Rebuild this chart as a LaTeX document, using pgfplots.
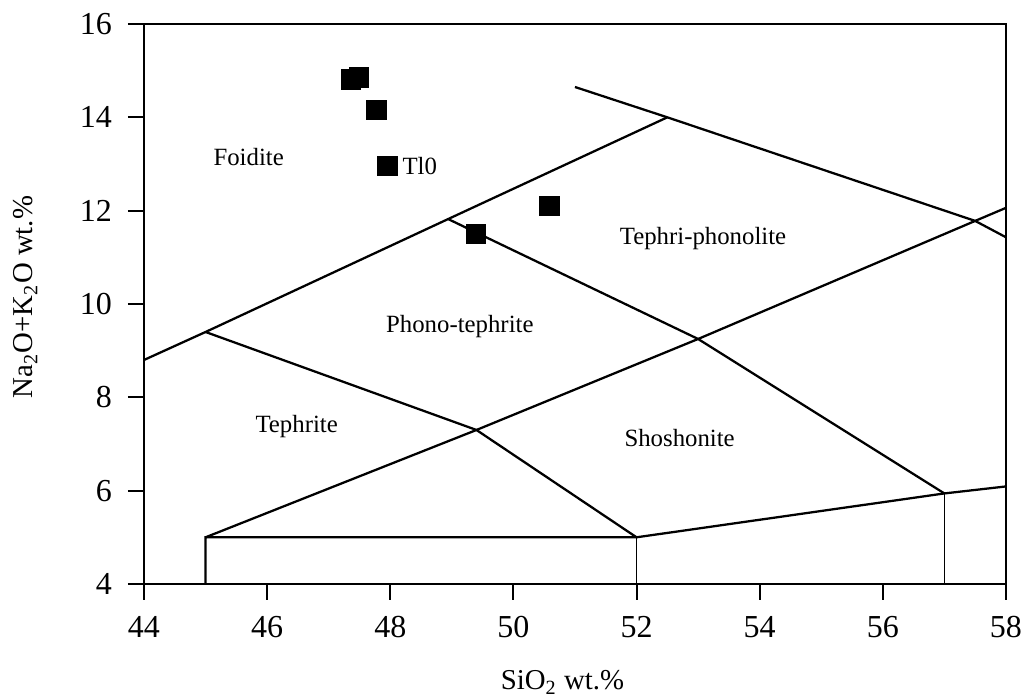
\documentclass[border=0pt]{standalone}
\usepackage{pgfplots}
\pgfplotsset{compat=1.18}
\usepackage{fontspec}
\setmainfont{Liberation Serif}
\begin{document}
\begin{tikzpicture}
\begin{axis}[
  name=ax,
  scale only axis,
  width=323.25pt, height=210pt,
  xmin=44, xmax=58, ymin=4, ymax=16,
  xtick={44,46,...,58}, ytick={4,6,...,16},
  tick align=outside, major tick length=6pt,
  xtick pos=bottom, ytick pos=left,
  axis line style={line width=0.75pt},
  tick style={line width=0.75pt, black},
  ticklabel style={font=\fontsize{12}{14}\selectfont},
  yticklabel style={xshift=-2.5pt},
  xticklabel style={yshift=-2.5pt},
  /pgf/number format/assume math mode=true,
  xlabel={SiO\textsubscript{2} wt.\%},
  ylabel={Na\textsubscript{2}O+K\textsubscript{2}O wt.\%},
  xlabel style={font=\fontsize{10.8}{13}\selectfont, at={(axis description cs:0.4855,-0.1893)}, anchor=base},
  ylabel style={font=\fontsize{10.8}{13}\selectfont, at={(axis description cs:-0.1288,0.5125)}, anchor=base, rotate=0},
  clip=true,
]
% field boundaries
\addplot[black, line width=0.85pt] coordinates {(44,8.8) (45,9.4) (48.94,11.82) (52.5,14)};
\addplot[black, line width=0.85pt] coordinates {(51,14.65) (52.5,14) (57.5,11.78) (58,11.43)};
\addplot[black, line width=0.85pt] coordinates {(45,9.4) (49.4,7.3) (52,5)};
\addplot[black, line width=0.85pt] coordinates {(48.94,11.82) (53,9.25) (57,5.94)};
\addplot[black, line width=0.85pt] coordinates {(45,5) (49.4,7.3) (53,9.25) (57.5,11.78) (58,12.06)};
\addplot[black, line width=0.85pt] coordinates {(45,4) (45,5) (52,5) (57,5.94) (58,6.09)};
\addplot[black, line width=0.6pt] coordinates {(52,4) (52,5)};
\addplot[black, line width=0.6pt] coordinates {(57,4) (57,5.94)};
% samples
\addplot[only marks, mark=square*, mark size=3.7pt, black, mark options={line width=0.3pt}] coordinates {
  (47.36,14.82) (47.49,14.86) (47.77,14.16) (47.95,12.96) (50.58,12.1) (49.39,11.5)};
% labels
\begin{scope}[every node/.style={font=\fontsize{9.3}{11}\selectfont}]
\node at (axis cs:45.70,13.15) {Foidite};
\node[anchor=west, inner sep=0pt] at (axis cs:48.19,12.96) {Tl0};
\node at (axis cs:53.08,11.41) {Tephri-phonolite};
\node at (axis cs:49.13,9.51) {Phono-tephrite};
\node at (axis cs:46.48,7.38) {Tephrite};
\node at (axis cs:52.70,7.13) {Shoshonite};
\end{scope}
\end{axis}
\pgfresetboundingbox
\path ([shift={(-54pt,-43.1pt)}]ax.south west) rectangle ([shift={(6.4pt,9pt)}]ax.north east);
\end{tikzpicture}
\end{document}
